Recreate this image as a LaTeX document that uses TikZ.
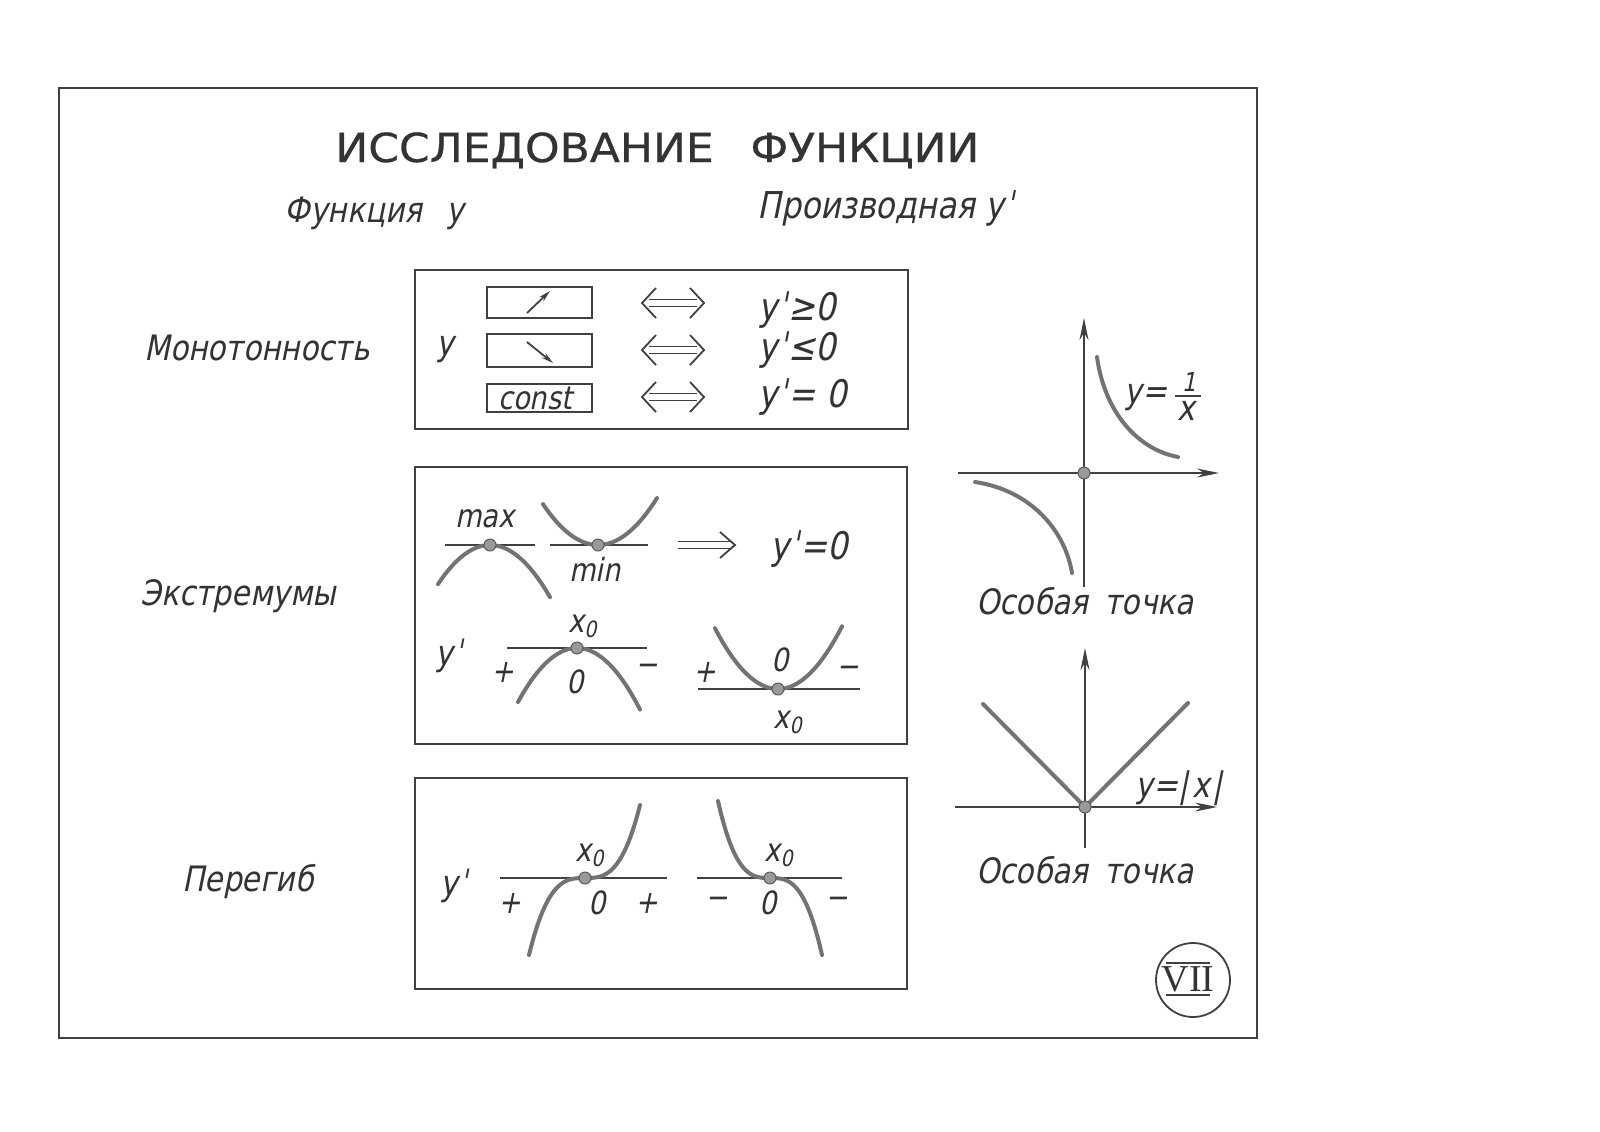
\documentclass[tikz,border=0pt]{standalone}
\usepackage{fontspec}
\setmainfont{DejaVu Sans}
\newfontfamily\lblfont{DejaVu Sans}[FakeSlant=0.2,FakeStretch=0.85]
\newfontfamily\ttlfont{DejaVu Sans}[FakeStretch=1.1,FakeBold=0.6]
\newfontfamily\romfont{Liberation Serif}
\newcommand\prm{\kern0.6pt ˈ\kern0.6pt}
\usetikzlibrary{arrows.meta}
\begin{document}
\begin{tikzpicture}[x=0.5pt,y=-0.5pt,
  frame/.style={draw=black!75, line width=0.9pt},
  curve/.style={draw=black!55, line width=2pt, line cap=round},
  tline/.style={draw=black!75, line width=0.9pt},
  dotc/.style={fill=black!40, draw=black!65, line width=0.5pt},
  lbl/.style={inner sep=0pt, text=black!80, font=\lblfont\fontsize{17.5}{20}\selectfont},
  fml/.style={inner sep=0pt, text=black!80, font=\lblfont\fontsize{19}{22}\selectfont},
  sml/.style={inner sep=0pt, text=black!80, font=\lblfont\fontsize{16}{18}\selectfont},
  axis/.style={draw=black!75, line width=0.9pt, -{Stealth[length=11pt,width=4.5pt]}},
  iffsym/.pic={
    \draw[tline] (-17,-15) -- (-31,0) -- (-17,15);
    \draw[tline] (17,-15) -- (31,0) -- (17,15);
    \draw[tline] (-24,-3.5) -- (24,-3.5);
    \draw[tline] (-24,3.5) -- (24,3.5);
  },
  impsym/.pic={
    \draw[tline] (-28,-3.5) -- (24,-3.5);
    \draw[tline] (-28,3.5) -- (24,3.5);
    \draw[tline] (14,-13) -- (29,0) -- (14,13);
  }
]
\fill[white] (0,0) rectangle (1600,1131);
\useasboundingbox (0,0) rectangle (1600,1131);

% outer frame
\draw[frame] (59,88) rectangle (1257,1038);

% title
\node[anchor=base west, inner sep=0pt, text=black!80, font=\ttlfont\fontsize{20}{24}\selectfont] (tA) at (335,162) {ИССЛЕДОВАНИЕ};
\node[anchor=base west, inner sep=0pt, text=black!80, font=\ttlfont\fontsize{20}{24}\selectfont] (tB) at (750,162) {ФУНКЦИИ};
\node[lbl, anchor=base west] (hF) at (284,222) {Функция\hspace{12pt}у};
\node[lbl, anchor=base west, font=\lblfont\fontsize{18.5}{21}\selectfont] (hP) at (757,218) {Производная y\prm};

% section labels
\node[lbl, anchor=base west] (sM) at (144,360) {Монотонность};
\node[lbl, anchor=base west] (sE) at (140,605) {Экстремумы};
\node[lbl, anchor=base west] (sI) at (182,891) {Перегиб};

% ---------- Monotonicity box
\draw[frame] (415,270) rectangle (908,429);
\node[lbl] (my) at (445,350) {y};
\draw[frame] (487,287) rectangle (592,318);
\draw[frame] (487,334) rectangle (592,367);
\draw[frame] (487,384) rectangle (592,412);
\draw[tline, -{Stealth[length=6pt,width=3pt]}] (527,313) -- (550,291);
\draw[tline, -{Stealth[length=6pt,width=3pt]}] (527,342) -- (553,363);
\node[sml] (mc) at (535,398) {const};
\pic at (673,303) {iffsym};
\pic at (673,350) {iffsym};
\pic at (673,397) {iffsym};
\node[fml, anchor=base west] (m1) at (758,320) {y\prm≥0};
\node[fml, anchor=base west] (m2) at (758,360) {y\prm≤0};
\node[fml, anchor=base west] (m3) at (758,407) {y\prm= 0};

% ---------- Extremum box
\draw[frame] (415,467) rectangle (907,744);
% max / min
\draw[tline] (445,545) -- (535,545);
\draw[tline] (550,545) -- (648,545);
\draw[curve] plot[domain=-52:60, samples=40, smooth] ({490+\x},{545+0.0145*\x*\x});
\draw[curve] plot[domain=-55:59, samples=40, smooth] ({598+\x},{545-0.0135*\x*\x});
\filldraw[dotc] (490,545) circle (6);
\filldraw[dotc] (598,545) circle (6);
\node[sml] (tmax) at (485,519) {max};
\node[sml] (tmin) at (595,569) {min};
\pic at (706,545) {impsym};
\node[fml, anchor=base west] (e0) at (770,559) {y\prm=0};
% derivative sign rows
\node[lbl] (ey) at (450,656) {y\prm};
\draw[tline] (507,648) -- (647,648);
\draw[curve] plot[domain=-59:63, samples=40, smooth] ({577+\x},{648+0.0155*\x*\x});
\filldraw[dotc] (577,648) circle (6);
\node[sml] (ex1) at (583,626) {x\textsubscript{0}};
\node[sml] (ez1) at (575,682) {0};
\node[sml] (ep1) at (503,672) {+};
\node[sml] (em1) at (647,670) {−};
\draw[tline] (698,689) -- (860,689);
\draw[curve] plot[domain=-63:64, samples=40, smooth] ({778+\x},{689-0.0153*\x*\x});
\filldraw[dotc] (778,689) circle (6);
\node[sml] (ep2) at (705,672) {+};
\node[sml] (ez2) at (780,660) {0};
\node[sml] (em2) at (848,672) {−};
\node[sml] (ex2) at (788,722) {x\textsubscript{0}};

% ---------- Inflection box
\draw[frame] (415,778) rectangle (907,989);
\node[lbl] (iy) at (455,886) {y\prm};
\draw[tline] (500,878) -- (667,878);
\draw[curve] plot[domain=-56:55, samples=50, smooth] ({585+\x},{878-77*(\x/56)^3});
\filldraw[dotc] (585,878) circle (6);
\node[sml] (ix1) at (590,855) {x\textsubscript{0}};
\node[sml] (ip1) at (510,903) {+};
\node[sml] (iz1) at (597,903) {0};
\node[sml] (ip2) at (647,903) {+};
\draw[tline] (697,878) -- (842,878);
\draw[curve] plot[domain=-52:52, samples=50, smooth] ({770+\x},{878+77*(\x/52)^3});
\filldraw[dotc] (770,878) circle (6);
\node[sml] (ix2) at (779,855) {x\textsubscript{0}};
\node[sml] (im1) at (717,903) {−};
\node[sml] (iz2) at (768,903) {0};
\node[sml] (im2) at (837,903) {−};

% ---------- Hyperbola
\coordinate (hO) at (1084,473);
\coordinate (hYb) at (1084,587);
\coordinate (hYt) at (1084,318);
\coordinate (hXl) at (958,473);
\coordinate (hXr) at (1219,473);
\draw[axis] (hYb) -- (hYt);
\draw[axis] (hXl) -- (hXr);
\draw[curve] (1097,357) .. controls (1105,415) and (1140,450) .. (1178,457);
\draw[curve] (975,482) .. controls (1030,490) and (1065,530) .. (1072,573);
\filldraw[dotc] (hO) circle (6);
\node[lbl] (hy) at (1146,398) {y=};
\node[inner sep=0pt, text=black!80, font=\lblfont\fontsize{13}{14}\selectfont] (hn) at (1189,382) {1};
\draw[tline] (1175,396) -- (1201,396);
\node[lbl] (hd) at (1186,411) {x};
\node[lbl] (hc1) at (1085,601) {Особая\hspace{8pt}точка};

% ---------- |x|
\coordinate (vO) at (1085,807);
\coordinate (vYb) at (1085,848);
\coordinate (vYt) at (1085,648);
\coordinate (vXl) at (955,807);
\coordinate (vXr) at (1217,807);
\draw[axis] (vYb) -- (vYt);
\draw[axis] (vXl) -- (vXr);
\draw[curve] (983,704) -- (vO) -- (1188,703);
\filldraw[dotc] (vO) circle (6);
\node[lbl] (vy) at (1179,788) {y=|\hspace{2pt}x\hspace{1pt}|};
\node[lbl] (hc2) at (1085,870) {Особая\hspace{8pt}точка};

% ---------- page mark
\draw[frame] (1193,980) circle (37);
\node[inner sep=0pt, text=black!80, font=\romfont\fontsize{19}{22}\selectfont] (rn) at (1188,979) {VII};
\draw[tline] (1166,963) -- (1210,963);
\draw[tline] (1166,995) -- (1210,995);
\end{tikzpicture}
\end{document}
